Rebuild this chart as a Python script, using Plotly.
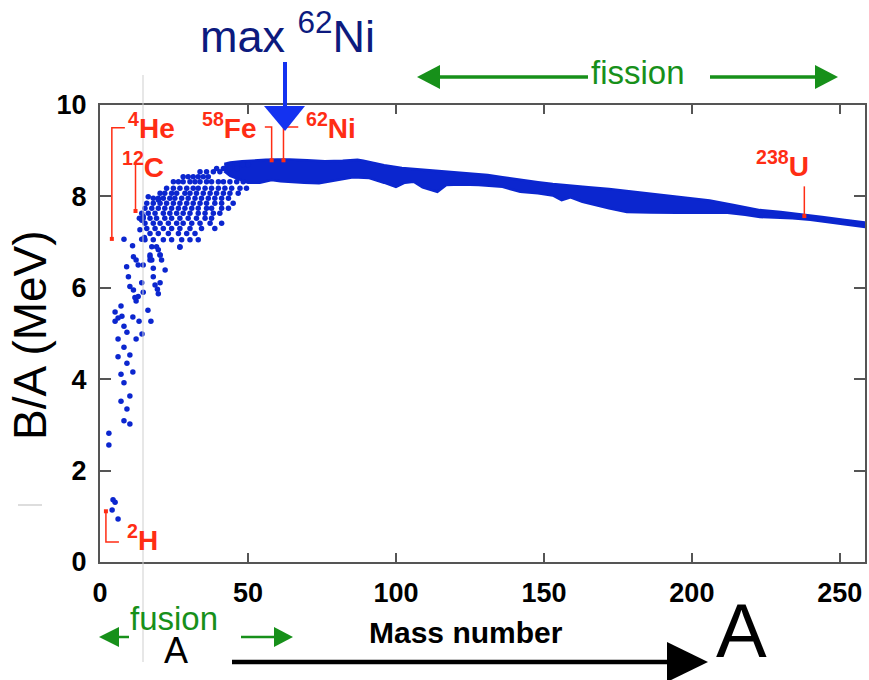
import plotly.graph_objects as go

# ---------------- data ----------------
# scattered light nuclei (mass number A, binding energy per nucleon B/A in MeV)
light_A = [12.2, 7.1, 5.1, 7.4, 6.1, 5.1, 11.1, 13.2, 16.2, 17.2, 8.1, 9.1, 14.2, 6.1, 12.2, 8.1,
           6.1, 10.1, 9.1, 7.1, 11.1, 8.1, 10.1, 7.1, 9.1, 8.1, 10.1, 3.0, 3.0, 4.4, 5.1, 4.1, 6.1,
           8.1, 11.0, 13.3, 14.1, 14.6, 13.5, 14.1, 15.0, 11.3, 12.2, 9.0, 12.9, 14.6, 16.9, 9.6,
           10.1, 11.3, 14.1, 14.6, 11.8, 12.9, 18.6, 20.3, 19.4, 19.7,
           16.3, 18.0, 19.7,
           17.5, 19.7, 16.9, 17.5, 20.3, 20.8, 18.0, 22.0, 18.0, 27.0,
           43.9, 46.2, 48.4, 50.1,
           39.4, 41.7, 43.9, 46.2,
           33.8, 36.0, 38.3, 40.5,
           28.1, 29.8, 31.5, 33.2, 34.9, 36.6,
           24.8, 26.5, 28.1, 30.4, 32.1, 33.8, 36.0, 37.7, 40.0, 41.7, 43.9, 46.2, 48.4,
           22.5, 24.8, 27.0, 29.3, 31.5, 33.2, 35.5, 37.7, 40.0, 42.2, 44.5, 47.3, 49.5,
           20.3, 21.9, 24.2, 25.9, 28.7, 30.4, 32.6, 34.9, 37.2, 39.4, 41.7, 43.9, 46.7,
           19.7, 21.4, 23.6, 25.3, 27.6, 29.8, 32.1, 34.3, 36.6, 38.8, 41.1, 43.4,
           15.8, 18.0, 20.3, 22.5, 24.8, 27.0, 29.3, 31.5, 33.8, 36.0, 38.8, 41.1, 45.0,
           15.2, 17.5, 19.7, 21.9, 24.2, 26.5, 28.7, 31.0, 33.2, 36.0, 37.7, 41.1, 43.4,
           14.1, 16.3, 18.6, 21.4, 23.6, 25.9, 28.1, 30.4, 33.2, 35.5, 38.3, 40.5,
           14.6, 16.9, 19.1, 21.9, 24.2, 27.0, 29.8, 32.6, 35.5, 37.7,
           15.2, 18.0, 20.3, 23.1, 25.9, 28.1, 31.0, 33.8, 37.2, 41.1,
           15.8, 18.6, 21.4, 24.2, 27.0, 30.4, 34.3, 38.8,
           16.9, 19.7, 23.1, 26.5, 29.3, 32.1,
           15.2, 18.0, 21.4, 24.2, 27.6, 30.4, 33.2,
           19.1, 27.0, 16.9, 20.3]
light_BA = [5.71, 5.60, 5.47, 5.38, 5.34, 5.27, 5.36, 5.27, 5.51, 5.27, 5.16, 5.03, 4.99, 4.88, 4.88, 4.70,
            4.49, 4.53, 4.35, 4.11, 4.16, 3.92, 3.63, 3.52, 3.35, 3.09, 3.02, 2.82, 2.56, 1.36, 1.31, 1.14, 0.94,
            7.06, 6.92, 7.52, 7.48, 7.56, 7.27, 7.06, 7.10, 6.68, 6.61, 6.46, 6.50, 6.50, 6.61, 6.24,
            6.03, 5.95, 6.11, 5.90, 5.79, 5.81, 6.06, 6.11, 5.97, 5.87,
            7.99, 7.96, 7.92,
            6.90, 6.83, 6.68, 6.61, 6.72, 6.61, 6.43, 6.39, 6.24, 6.89,
            8.69, 8.69, 8.69, 8.69,
            8.61, 8.61, 8.61, 8.61,
            8.54, 8.54, 8.54, 8.54,
            8.43, 8.43, 8.43, 8.43, 8.43, 8.43,
            8.32, 8.32, 8.32, 8.32, 8.32, 8.32, 8.32, 8.32, 8.32, 8.32, 8.32, 8.32, 8.32,
            8.18, 8.18, 8.18, 8.18, 8.18, 8.18, 8.18, 8.18, 8.18, 8.18, 8.18, 8.18, 8.18,
            8.07, 8.07, 8.07, 8.07, 8.07, 8.07, 8.07, 8.07, 8.07, 8.07, 8.07, 8.07, 8.07,
            7.96, 7.96, 7.96, 7.96, 7.96, 7.96, 7.96, 7.96, 7.96, 7.96, 7.96, 7.96,
            7.85, 7.85, 7.85, 7.85, 7.85, 7.85, 7.85, 7.85, 7.85, 7.85, 7.85, 7.85, 7.85,
            7.74, 7.74, 7.74, 7.74, 7.74, 7.74, 7.74, 7.74, 7.74, 7.74, 7.74, 7.74, 7.74,
            7.63, 7.63, 7.63, 7.63, 7.63, 7.63, 7.63, 7.63, 7.63, 7.63, 7.63, 7.63,
            7.52, 7.52, 7.52, 7.52, 7.52, 7.52, 7.52, 7.52, 7.52, 7.52,
            7.41, 7.41, 7.41, 7.41, 7.41, 7.41, 7.41, 7.41, 7.41, 7.41,
            7.30, 7.30, 7.30, 7.30, 7.30, 7.30, 7.30, 7.30,
            7.19, 7.19, 7.19, 7.19, 7.19, 7.19,
            7.05, 7.05, 7.05, 7.05, 7.05, 7.05, 7.05,
            6.90, 6.90, 6.72, 6.72]

# dense band of heavier nuclei: upper and lower envelope
band_upper_A = [42, 44, 48, 52, 56, 60, 64, 70, 76, 82, 87, 89, 92, 96, 102, 108, 114, 120, 125, 131,
                136, 142, 148, 153, 159, 165, 172, 180, 189, 197, 206, 214, 223, 230, 237, 244, 251, 258.5]
band_upper_BA = [8.71, 8.74, 8.77, 8.79, 8.80, 8.81, 8.81, 8.79, 8.77, 8.78, 8.80, 8.78, 8.73, 8.68, 8.62,
                 8.59, 8.56, 8.53, 8.51, 8.47, 8.42, 8.36, 8.31, 8.27, 8.23, 8.20, 8.16, 8.10, 8.03, 7.98,
                 7.91, 7.81, 7.70, 7.66, 7.61, 7.55, 7.49, 7.43]
band_lower_A = [42, 44, 47, 50, 54, 58, 61, 65, 69, 74, 80, 85.5, 91, 96, 100, 103, 106, 109, 114, 117,
                122, 128, 136, 142, 148, 153, 156, 159, 163, 167, 172, 178, 186, 195, 203, 212, 218, 223,
                229, 234, 240, 246, 252, 258.5]
band_lower_BA = [8.55, 8.45, 8.38, 8.30, 8.30, 8.36, 8.33, 8.31, 8.30, 8.29, 8.36, 8.42, 8.40, 8.30, 8.21,
                 8.30, 8.32, 8.20, 8.10, 8.25, 8.26, 8.25, 8.21, 8.10, 8.07, 8.02, 7.92, 7.98, 7.88, 7.81,
                 7.74, 7.66, 7.65, 7.64, 7.65, 7.64, 7.60, 7.55, 7.54, 7.52, 7.49, 7.43, 7.39, 7.33]

# highlighted nuclides
marked_labels = ["<sup>2</sup>H", "<sup>4</sup>He", "<sup>12</sup>C", "<sup>58</sup>Fe", "<sup>62</sup>Ni", "<sup>238</sup>U"]
marked_A = [2, 4, 12, 58, 62, 238]
marked_BA = [1.11, 7.07, 7.68, 8.79, 8.79, 7.57]

x_ticks = [0, 50, 100, 150, 200, 250]
y_ticks = [0, 2, 4, 6, 8, 10]

# ---------------- styling / layout helpers ----------------
W, H = 869, 680
L, R, T, B = 100, 4, 105, 118
PW, PH = W - L - R, H - T - B
FONT = "Liberation Sans, Arial, Helvetica, sans-serif"
BLUE = "#0B26CF"
RED = "#FF2D14"
GREEN = "#17901A"
NAVY = "#0C1A7E"
ARROWBLUE = "#1432F0"


def fx(px):
    return (px - L) / PW


def fy(py):
    return (H - B - py) / PH


fig = go.Figure()

band_x = band_upper_A + band_lower_A[::-1]
band_y = band_upper_BA + band_lower_BA[::-1]
fig.add_trace(go.Scatter(x=band_x, y=band_y, mode="lines", fill="toself",
                         fillcolor=BLUE, line=dict(color=BLUE, width=2.5),
                         hoverinfo="skip", showlegend=False))
fig.add_trace(go.Scatter(x=light_A, y=light_BA, mode="markers",
                         marker=dict(color=BLUE, size=5.5, symbol="circle", line=dict(width=0)),
                         showlegend=False))

# red brackets connecting marked nuclides to labels (data coords)
bracket_top = [0.44, 9.50, 8.74, 9.52, 9.52, 8.22]
bracket_end = [6.4, 8.4, None, 55.7, 67.0, None]
shapes = []
for a, ba, top, end in zip(marked_A, marked_BA, bracket_top, bracket_end):
    path = f"M {a},{ba} L {a},{top}"
    if end is not None:
        path += f" L {end},{top}"
    shapes.append(dict(type="path", xref="x", yref="y", path=path,
                       line=dict(color=RED, width=1.5), layer="above"))

fig.add_trace(go.Scatter(x=marked_A, y=marked_BA, mode="markers",
                         marker=dict(color=RED, size=4, symbol="square"),
                         showlegend=False))


def hline(x0, x1, y, color, width):
    return dict(type="line", xref="paper", yref="paper", x0=fx(x0), x1=fx(x1), y0=fy(y), y1=fy(y),
                line=dict(color=color, width=width), layer="above")


def tri(pts, color):
    p = "M " + " L ".join(f"{fx(a)},{fy(b)}" for a, b in pts) + " Z"
    return dict(type="path", xref="paper", yref="paper", path=p, fillcolor=color,
                line=dict(color=color, width=0), layer="above")


# thin grey vertical guide and small grey dash
shapes.append(dict(type="line", xref="paper", yref="paper", x0=fx(143), x1=fx(143), y0=fy(75), y1=fy(662),
                   line=dict(color="#CFCFCF", width=1), layer="above"))
shapes.append(hline(18, 42, 505, "#BBBBBB", 1))

# blue arrow to max 62Ni
shapes.append(dict(type="line", xref="paper", yref="paper", x0=fx(285), x1=fx(285), y0=fy(62), y1=fy(108),
                   line=dict(color=ARROWBLUE, width=4), layer="above"))
shapes.append(tri([(264, 106), (305, 106), (285, 131)], ARROWBLUE))

# fission arrows
shapes.append(hline(438, 588, 77, GREEN, 3.5))
shapes.append(tri([(417, 77), (440, 65), (440, 89)], GREEN))
shapes.append(hline(710, 817, 77, GREEN, 3.5))
shapes.append(tri([(838, 77), (815, 65), (815, 89)], GREEN))

# fusion arrows
shapes.append(hline(117, 129, 637, GREEN, 2.5))
shapes.append(tri([(99, 637), (119, 627), (119, 647)], GREEN))
shapes.append(hline(241, 276, 637, GREEN, 2.5))
shapes.append(tri([(293, 637), (274, 627), (274, 647)], GREEN))

# black A arrow
shapes.append(hline(232, 670, 662, "black", 4.5))
shapes.append(tri([(708, 662), (667, 642), (667, 682)], "black"))


def ann(text, px, py, size, color, bold=False, angle=0):
    return dict(text=text, x=fx(px), y=fy(py), xref="paper", yref="paper", showarrow=False,
                xanchor="center", yanchor="middle", textangle=angle,
                font=dict(family=FONT, size=size, color=color, weight="bold" if bold else "normal"))


label_px = [(142, 538), (151, 126), (143, 165), (229, 126), (331, 126), (782, 164)]
annotations = [ann(t, p[0], p[1], 28, RED, bold=True) for t, p in zip(marked_labels, label_px)]
annotations += [
    ann("max <sup>62</sup>Ni", 287, 33, 45, NAVY),
    ann("fission", 638, 73, 33, GREEN),
    ann("fusion", 174, 618, 33, GREEN),
    ann("A", 176, 650, 36, "black"),
    ann("A", 741, 630, 76, "black"),
    ann("Mass number", 466, 632, 30, "black", bold=True),
    ann("B/A (MeV)", 30, 335, 46, "black", angle=-90),
]

axis_common = dict(showgrid=False, zeroline=False, showline=True, linecolor="#555555", linewidth=2,
                   mirror="ticks", ticks="inside", tickcolor="#555555", tickwidth=1.5, automargin=False,
                   tickfont=dict(family=FONT, size=27, color="black", weight="bold"))

fig.update_layout(
    width=W, height=H,
    margin=dict(l=L, r=R, t=T, b=B, pad=0, autoexpand=False),
    paper_bgcolor="white", plot_bgcolor="white",
    showlegend=False,
    xaxis=dict(range=[0, 258.5], tickvals=x_ticks, ticklen=9, ticklabelstandoff=6, **axis_common),
    yaxis=dict(range=[0, 10], tickvals=y_ticks, ticklen=11, ticklabelstandoff=6, **axis_common),
    shapes=shapes,
    annotations=annotations,
)

fig.write_html("out.html", config={"displayModeBar": False},
               post_script="document.body.style.margin='0';document.body.style.overflow='hidden';")
